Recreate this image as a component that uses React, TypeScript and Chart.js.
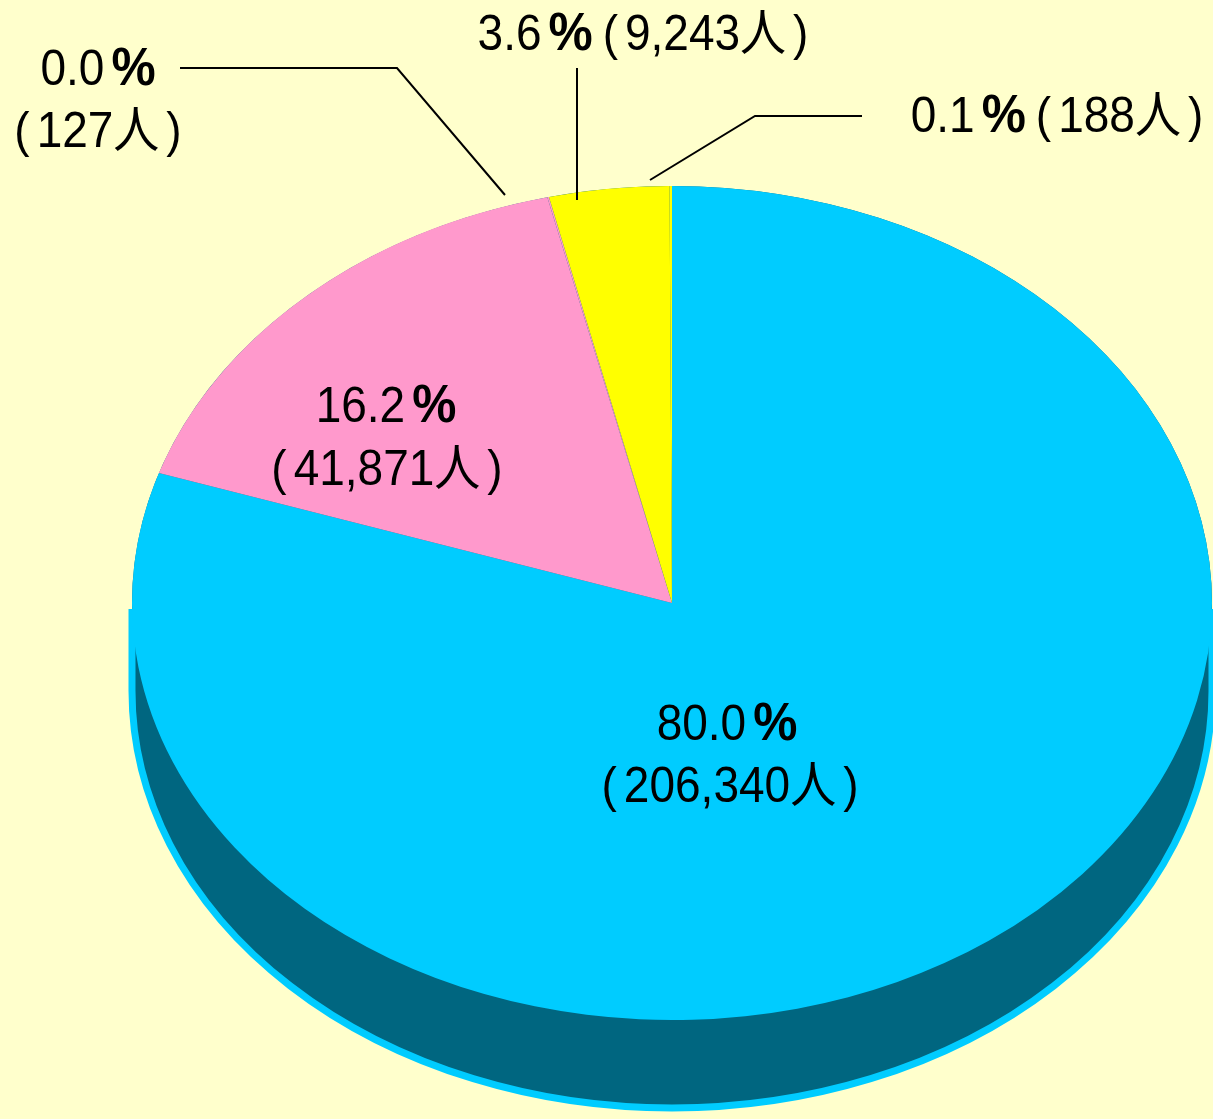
import React, { useEffect, useRef } from 'react';
import { Chart, registerables } from 'chart.js';

Chart.register(...registerables);

// ---- data ----
const categories = ['区分A', '区分B', '区分C', '区分D', '区分E'];
const counts = [206340, 41871, 127, 9243, 188];
const sliceColors = ['#00CCFF', '#FF99CC', '#FF99CC', '#FFFF00', '#FFFF00'];
const unitLabel = '人';

// ---- style / layout ----
const W = 1213;
const H = 1119;
const BG = '#FFFFCC';
const SIDE_COLOR = '#006680';
const RIM_COLOR = '#00CCFF';
const ASPECT = 540 / 417; // horizontal stretch of the pie
const DEPTH_RATIO = 88 / 417;
const COND = 0.92; // horizontal condensing of text
const FONT_MAIN = '50px "Liberation Sans", "Noto Sans CJK JP", sans-serif';
const FONT_PCT = 'bold 54px "Liberation Sans", sans-serif';

// label layout: offsets from pie centre at reference radius (rx 540, ry 417)
type LabelLayout = {
  lines: [number, number][];
  split: boolean;
  leader?: [number, number][];
};
const labelLayout: LabelLayout[] = [
  { lines: [[55, 137], [58, 199]], split: true },
  { lines: [[-286, -181], [-285, -118]], split: true },
  {
    lines: [[-574, -518], [-574, -456]],
    split: true,
    leader: [[-492, -535], [-275, -535], [-167, -408]],
  },
  { lines: [[-29, -553]], split: false, leader: [[-95, -535], [-95, -403]] },
  { lines: [[385, -471]], split: false, leader: [[190, -487], [83, -487], [-22, -423]] },
];

type Seg = { t: string; pct?: boolean; gap?: number };

function drawRich(ctx: CanvasRenderingContext2D, segs: Seg[], cx: number, baseline: number) {
  const widths = segs.map((s) => {
    ctx.font = s.pct ? FONT_PCT : FONT_MAIN;
    return ctx.measureText(s.t).width + (s.gap || 0) / COND;
  });
  const total = widths.reduce((a, b) => a + b, 0) * COND;
  ctx.save();
  ctx.translate(cx - total / 2, baseline);
  ctx.scale(COND, 1);
  ctx.fillStyle = '#000000';
  ctx.textAlign = 'left';
  ctx.textBaseline = 'alphabetic';
  let off = 0;
  segs.forEach((s, i) => {
    ctx.font = s.pct ? FONT_PCT : FONT_MAIN;
    ctx.fillText(s.t, off, 0);
    off += widths[i];
  });
  ctx.restore();
}

const pie3d = {
  id: 'pie3d',
  beforeDatasetsDraw(chart: any) {
    const arc = chart.getDatasetMeta(0).data[0];
    if (!arc) return;
    const { x, y, outerRadius: r } = arc;
    const ctx: CanvasRenderingContext2D = chart.ctx;
    const d = r * DEPTH_RATIO;
    // side fill
    ctx.save();
    ctx.beginPath();
    ctx.translate(x, y);
    ctx.scale(ASPECT, 1);
    ctx.moveTo(r, 0);
    ctx.lineTo(r, d);
    ctx.arc(0, d, r, 0, Math.PI, false);
    ctx.lineTo(-r, 0);
    ctx.arc(0, 0, r, Math.PI, 0, false);
    ctx.closePath();
    ctx.setTransform(1, 0, 0, 1, 0, 0);
    ctx.fillStyle = SIDE_COLOR;
    ctx.fill();
    ctx.restore();
    // side rim
    ctx.save();
    ctx.beginPath();
    ctx.translate(x, y);
    ctx.scale(ASPECT, 1);
    ctx.moveTo(r, 6);
    ctx.lineTo(r, d);
    ctx.arc(0, d, r, 0, Math.PI, false);
    ctx.lineTo(-r, 6);
    ctx.setTransform(1, 0, 0, 1, 0, 0);
    ctx.strokeStyle = RIM_COLOR;
    ctx.lineWidth = 7;
    ctx.stroke();
    ctx.restore();
    // stretch the top surface into an ellipse
    ctx.save();
    ctx.translate(x, y);
    ctx.scale(ASPECT, 1);
    ctx.translate(-x, -y);
  },
  afterDatasetsDraw(chart: any) {
    const ctx: CanvasRenderingContext2D = chart.ctx;
    ctx.restore();
    const meta = chart.getDatasetMeta(0);
    const arc = meta.data[0];
    if (!arc) return;
    const { x, y, outerRadius: r } = arc;
    const sx = (r * ASPECT) / 540;
    const sy = r / 417;
    const total = counts.reduce((a, b) => a + b, 0);
    counts.forEach((v, i) => {
      const lay = labelLayout[i];
      const pct = ((v / total) * 100).toFixed(1);
      const numText = v.toLocaleString('en-US');
      const pctSegs: Seg[] = [{ t: pct, gap: 7 }, { t: '%', pct: true }];
      const cntSegs: Seg[] = [
        { t: '(', gap: 7 },
        { t: numText + unitLabel, gap: 7 },
        { t: ')' },
      ];
      if (lay.leader) {
        ctx.save();
        ctx.beginPath();
        lay.leader.forEach(([dx, dy], k) => {
          const px = x + dx * sx;
          const py = y + dy * sy;
          if (k === 0) ctx.moveTo(px, py);
          else ctx.lineTo(px, py);
        });
        ctx.strokeStyle = '#000000';
        ctx.lineWidth = 2;
        ctx.stroke();
        ctx.restore();
      }
      if (lay.split) {
        drawRich(ctx, pctSegs, x + lay.lines[0][0] * sx, y + lay.lines[0][1] * sy);
        drawRich(ctx, cntSegs, x + lay.lines[1][0] * sx, y + lay.lines[1][1] * sy);
      } else {
        const segs = [...pctSegs.slice(0, 1), { t: '%', pct: true, gap: 10 }, ...cntSegs];
        drawRich(ctx, segs, x + lay.lines[0][0] * sx, y + lay.lines[0][1] * sy);
      }
    });
  },
};

export default function App() {
  const ref = useRef<HTMLCanvasElement | null>(null);
  useEffect(() => {
    if (!ref.current) return;
    const chart = new Chart(ref.current, {
      type: 'pie',
      data: {
        labels: categories,
        datasets: [
          {
            data: counts,
            backgroundColor: sliceColors,
            borderWidth: 0,
            clip: false as any,
          },
        ],
      },
      options: {
        responsive: false,
        animation: false,
        devicePixelRatio: 1,
        events: [],
        layout: { padding: { left: 132, right: 1, top: 186, bottom: 99 } },
        plugins: {
          legend: { display: false },
          tooltip: { enabled: false },
          title: { display: false },
        },
      },
      plugins: [pie3d],
    });
    return () => chart.destroy();
  }, []);
  return (
    <div
      style={{
        position: 'absolute',
        left: 0,
        top: 0,
        width: W,
        height: H,
        background: BG,
        overflow: 'hidden',
      }}
    >
      <canvas ref={ref} width={W} height={H} style={{ display: 'block', width: W, height: H }} />
    </div>
  );
}
